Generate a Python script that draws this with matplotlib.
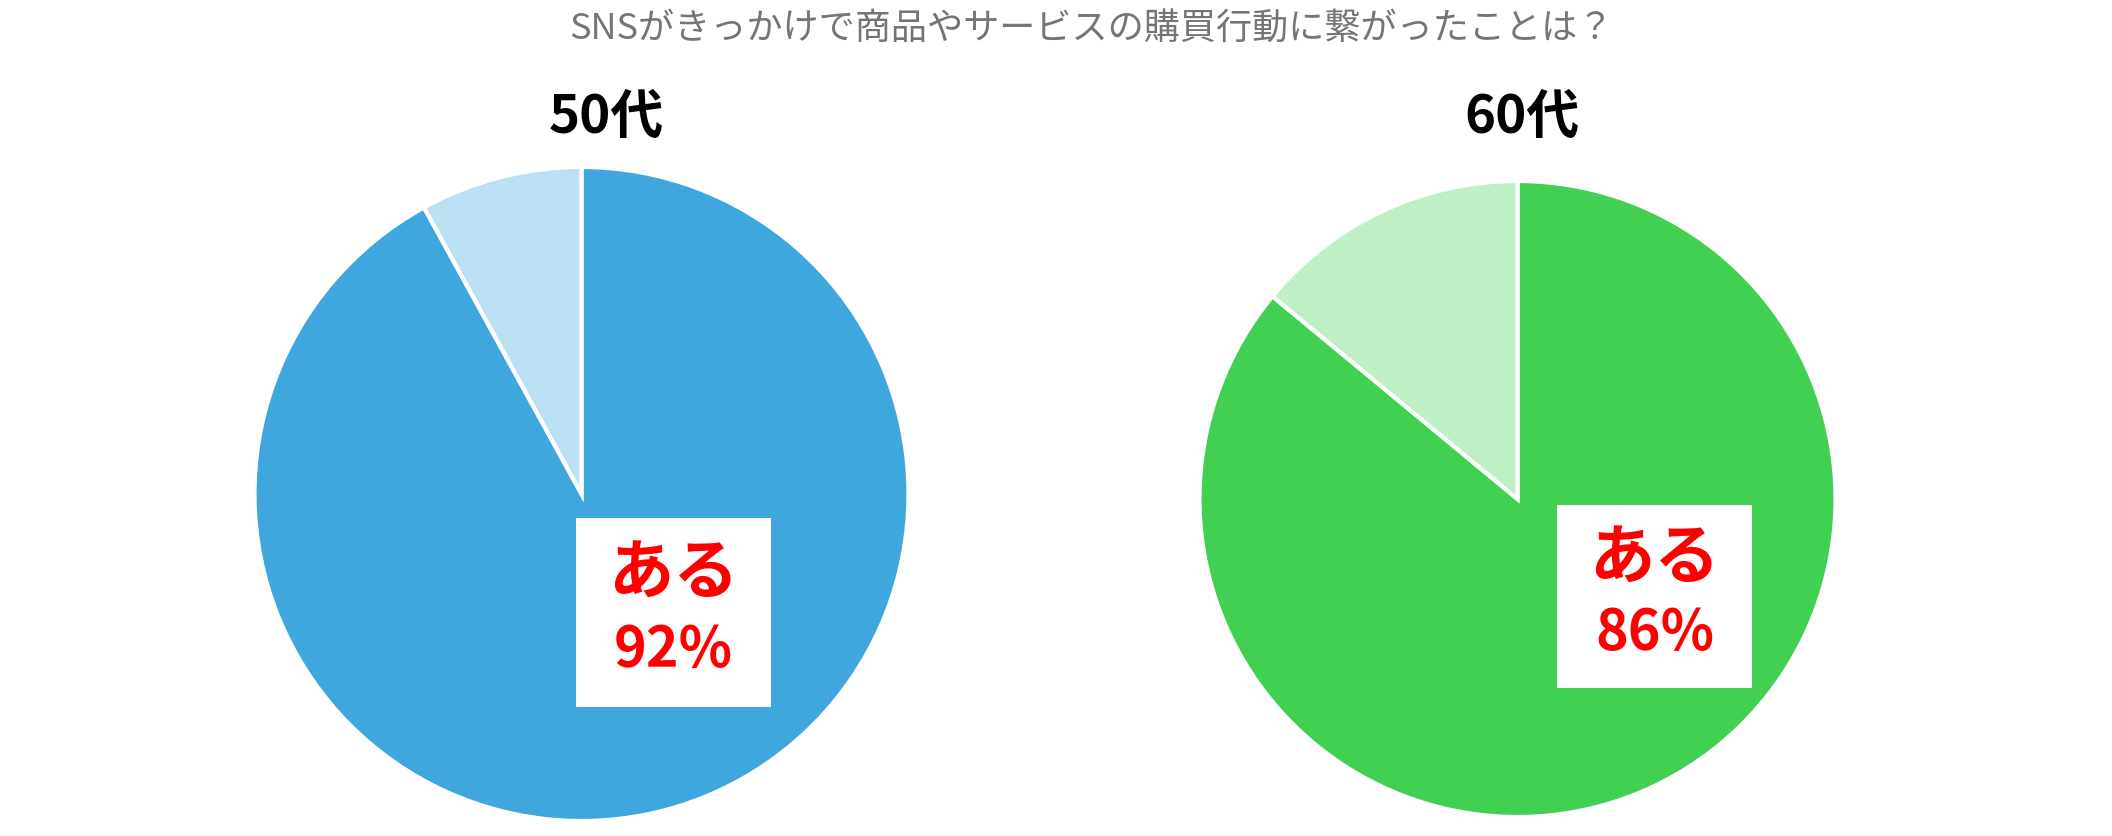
import matplotlib
matplotlib.use('Agg')
import matplotlib.pyplot as plt
from matplotlib.patches import Rectangle

plt.rcParams['font.family'] = ['Noto Sans CJK JP', 'DejaVu Sans']

# Data
title = 'SNSがきっかけで商品やサービスの購買行動に繋がったことは？'
groups = ['50代', '60代']
answer_label = 'ある'
yes_pct = [92, 86]
no_pct = [8, 14]
main_colors = ['#3FA7DE', '#41D052']
light_colors = ['#BBE0F3', '#BEEFC5']

# Layout (pixels, measured from top-left of a 2112x836 canvas)
W, H = 2112, 836
pie_center = [(581.5, 494), (1517.5, 499)]
pie_radius = [327, 318]
group_title_pos = [(606, 117), (1522, 117)]
box_rect = [(576, 518, 195, 189), (1557, 505, 195, 183)]  # left, top, width, height

fig = plt.figure(figsize=(W / 100, H / 100), dpi=100)

def fx(x):
    return x / W

def fy(y):
    return 1 - y / H

fig.text(fx(1091), fy(30), title, ha='center', va='center',
         fontsize=26, color='#757575')

for i in range(len(groups)):
    cx, cy = pie_center[i]
    r = pie_radius[i]
    ax = fig.add_axes([fx(cx - r), fy(cy + r), 2 * r / W, 2 * r / H])
    ax.pie([yes_pct[i], no_pct[i]], colors=[main_colors[i], light_colors[i]],
           startangle=90, counterclock=False, radius=1,
           wedgeprops=dict(edgecolor='white', linewidth=3))
    ax.set_xlim(-1, 1)
    ax.set_ylim(-1, 1)
    ax.axis('off')

    tx, ty = group_title_pos[i]
    fig.text(fx(tx), fy(ty), groups[i], ha='center', va='center',
             fontsize=38, fontweight='bold', color='black')

    bl, bt, bw, bh = box_rect[i]
    fig.add_artist(Rectangle((fx(bl), fy(bt + bh)), bw / W, bh / H,
                             transform=fig.transFigure, facecolor='white',
                             edgecolor='none', zorder=5))
    mx = bl + bw / 2
    fig.text(fx(mx), fy(bt + bh * 0.29), answer_label, ha='center', va='center',
             fontsize=47, fontweight='bold', color='#FF0000', zorder=6)
    fig.text(fx(mx), fy(bt + bh * 0.70), f'{yes_pct[i]}%', ha='center', va='center',
             fontsize=40, fontweight='bold', color='#FF0000', zorder=6)

fig.savefig('out.png', dpi=100)
